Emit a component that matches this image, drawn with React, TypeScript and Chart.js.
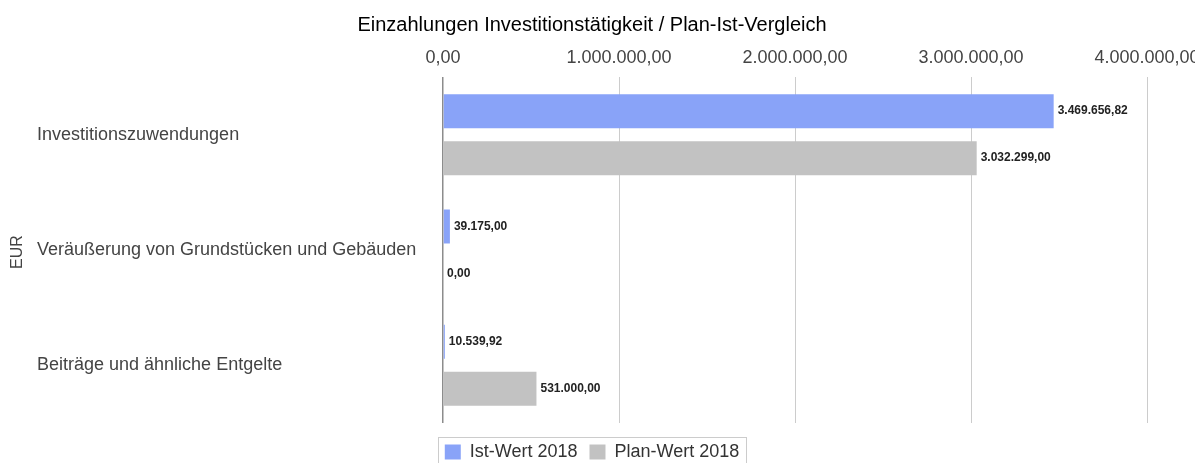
import React, { useEffect, useRef } from 'react';
import { Chart, registerables } from 'chart.js';

Chart.register(...registerables);

const chartTitle = 'Einzahlungen Investitionstätigkeit / Plan-Ist-Vergleich';
const axisTitle = 'EUR';
const categories = [
  'Investitionszuwendungen',
  'Veräußerung von Grundstücken und Gebäuden',
  'Beiträge und ähnliche Entgelte',
];
const seriesLabels = ['Ist-Wert 2018', 'Plan-Wert 2018'];
const istValues = [3469656.82, 39175.0, 10539.92];
const planValues = [3032299.0, 0.0, 531000.0];
const xTicks = [0, 1000000, 2000000, 3000000, 4000000];
const seriesColors = ['#89a3f8', '#c2c2c2'];

const FONT = "'Liberation Sans', Arial, Helvetica, sans-serif";

function fmt(v: number): string {
  const neg = v < 0;
  const cents = Math.round(Math.abs(v) * 100);
  const intPart = Math.floor(cents / 100);
  const dec = cents % 100;
  const s = String(intPart).replace(/\B(?=(\d{3})+(?!\d))/g, '.');
  return (neg ? '-' : '') + s + ',' + String(dec).padStart(2, '0');
}

const dataLabelPlugin = {
  id: 'dataLabels',
  afterDatasetsDraw(chart: any) {
    const ctx = chart.ctx;
    ctx.save();
    ctx.font = `bold 12px ${FONT}`;
    ctx.fillStyle = '#222';
    ctx.textAlign = 'left';
    ctx.textBaseline = 'middle';
    chart.data.datasets.forEach((ds: any, di: number) => {
      const meta = chart.getDatasetMeta(di);
      meta.data.forEach((el: any, i: number) => {
        const v = ds.data[i];
        ctx.fillText(fmt(v), el.x + 4, el.y);
      });
    });
    ctx.restore();
  },
};

const extrasPlugin = {
  id: 'extras',
  afterDraw(chart: any) {
    const ctx = chart.ctx;
    ctx.save();
    // rotated axis title
    ctx.font = `16px ${FONT}`;
    ctx.fillStyle = '#444';
    ctx.textAlign = 'center';
    ctx.textBaseline = 'middle';
    const ca = chart.chartArea;
    ctx.translate(18, (ca.top + ca.bottom) / 2 + 2);
    ctx.rotate(-Math.PI / 2);
    ctx.fillText(axisTitle, 0, 0);
    ctx.restore();

    // legend border
    const lg = chart.legend;
    if (lg && lg.legendHitBoxes && lg.legendHitBoxes.length) {
      const hb = lg.legendHitBoxes;
      const first = hb[0];
      const last = hb[hb.length - 1];
      const left = Math.round(first.left - 7) + 0.5;
      const right = Math.round(last.left + last.width + 7) + 0.5;
      const top = Math.round(first.top - 6) + 0.5;
      ctx.save();
      ctx.strokeStyle = '#cccccc';
      ctx.lineWidth = 1;
      ctx.strokeRect(left, top, right - left, 40);
      ctx.restore();
    }
  },
};

export default function App() {
  const ref = useRef<HTMLCanvasElement | null>(null);

  useEffect(() => {
    if (!ref.current) return;
    const chart = new Chart(ref.current, {
      type: 'bar',
      data: {
        labels: categories,
        datasets: [
          {
            label: seriesLabels[0],
            data: istValues,
            backgroundColor: seriesColors[0],
            borderWidth: 0,
            categoryPercentage: 0.815,
            barPercentage: 0.723,
          },
          {
            label: seriesLabels[1],
            data: planValues,
            backgroundColor: seriesColors[1],
            borderWidth: 0,
            categoryPercentage: 0.815,
            barPercentage: 0.723,
          },
        ],
      },
      options: {
        indexAxis: 'y',
        responsive: false,
        animation: false,
        layout: { padding: { left: 37, right: 48, top: 0, bottom: 0 } },
        font: { family: FONT },
        scales: {
          x: {
            type: 'linear',
            position: 'top',
            min: 0,
            max: 4000000,
            afterBuildTicks: (s: any) => {
              s.ticks = xTicks.map((v) => ({ value: v }));
            },
            afterFit: (s: any) => {
              s.height = 30;
              s.paddingRight = 0;
              s.paddingLeft = 0;
            },
            ticks: {
              padding: 8,
              color: '#444',
              font: { family: FONT, size: 18 },
              maxRotation: 0,
              autoSkip: false,
              callback: (v: any) => fmt(Number(v)),
            },
            grid: {
              drawTicks: false,
              tickLength: 0,
              color: (c: any) => (c.tick && c.tick.value === 0 ? '#8c8c8c' : '#cccccc'),
              lineWidth: (c: any) => (c.tick && c.tick.value === 0 ? 1.5 : 1),
            },
            border: { display: false },
          },
          y: {
            type: 'category',
            position: 'left',
            afterFit: (s: any) => {
              s.width = 406;
            },
            ticks: {
              crossAlign: 'far',
              color: '#444',
              font: { family: FONT, size: 18 },
            },
            grid: { display: false },
            border: { display: false },
          },
        },
        plugins: {
          title: {
            display: true,
            text: chartTitle,
            color: '#000',
            font: { family: FONT, size: 20, weight: 'normal', lineHeight: 1.2 },
            padding: { top: 13, bottom: 10 },
          },
          subtitle: {
            display: true,
            position: 'bottom',
            text: '',
            font: { family: FONT, size: 8, lineHeight: 1 },
            padding: 0,
          },
          legend: {
            display: true,
            position: 'bottom',
            weight: 3000,
            maxHeight: 32,
            labels: {
              boxWidth: 16,
              boxHeight: 15,
              padding: 12,
              color: '#333',
              font: { family: FONT, size: 18 },
            },
          },
          tooltip: { enabled: false },
        },
      },
      plugins: [dataLabelPlugin, extrasPlugin],
    } as any);
    return () => chart.destroy();
  }, []);

  return (
    <div style={{ position: 'absolute', left: 0, top: 0, width: 1195, height: 463, background: '#fff' }}>
      <canvas ref={ref} width={1195} height={463} style={{ display: 'block' }} />
    </div>
  );
}
